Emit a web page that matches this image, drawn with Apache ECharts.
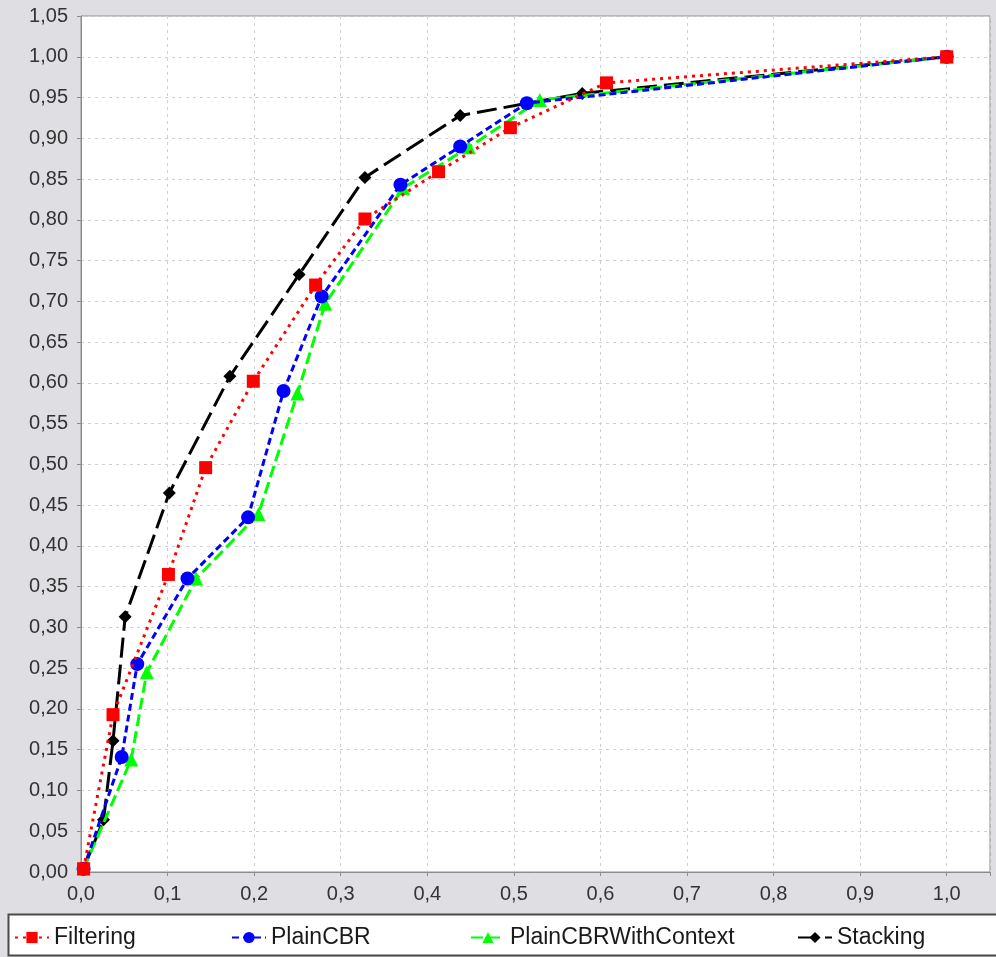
<!DOCTYPE html>
<html>
<head>
<meta charset="utf-8">
<script src="https://cdn.jsdelivr.net/npm/echarts@6/dist/echarts.min.js"></script>
<style>
  html, body { margin: 0; padding: 0; background: #dfdfe3; }
  #chart { width: 996px; height: 957px; }
</style>
</head>
<body>
<div id="chart"></div>
<script>
// series values (x = fallout, y = recall-like)
const filteringX = [0.003, 0.037, 0.101, 0.144, 0.199, 0.271, 0.328, 0.413, 0.496, 0.607, 1.0];
const filteringY = [0.004, 0.193, 0.365, 0.496, 0.602, 0.720, 0.801, 0.859, 0.913, 0.968, 1.0];

const plainX = [0.003, 0.047, 0.065, 0.123, 0.193, 0.234, 0.278, 0.369, 0.438, 0.515, 1.0];
const plainY = [0.004, 0.141, 0.255, 0.360, 0.435, 0.590, 0.706, 0.843, 0.890, 0.943, 1.0];

const contextX = [0.003, 0.058, 0.076, 0.133, 0.205, 0.250, 0.282, 0.372, 0.448, 0.530, 1.0];
const contextY = [0.004, 0.138, 0.245, 0.360, 0.439, 0.587, 0.697, 0.839, 0.889, 0.947, 1.0];

const stackingX = [0.003, 0.026, 0.037, 0.051, 0.102, 0.172, 0.252, 0.328, 0.438, 0.579, 1.0];
const stackingY = [0.004, 0.064, 0.161, 0.313, 0.465, 0.608, 0.733, 0.852, 0.928, 0.955, 1.0];

const seriesNames = ['Filtering', 'PlainCBR', 'PlainCBRWithContext', 'Stacking'];

const FONT = 'Liberation Sans';

let pairs = (xs, ys) => xs.map((x, i) => [x, ys[i]]);

let chart = echarts.init(document.getElementById('chart'));

let mkLegend = (name, left) => ({
    data: [name],
    left: left,
    top: 926,
    itemWidth: 34,
    itemHeight: 14,
    padding: 0,
    selectedMode: false,
    textStyle: { fontFamily: FONT, fontSize: 23, color: '#1a1a1a' }
});

let option = {
    backgroundColor: '#dfdfe3',
    animation: false,
    grid: {
        left: 81,
        top: 16,
        right: 6,
        bottom: 85,
        show: true,
        backgroundColor: '#ffffff',
        borderColor: '#8c8c8c',
        borderWidth: 1
    },
    legend: [
        mkLegend(seriesNames[0], 14),
        mkLegend(seriesNames[1], 231),
        mkLegend(seriesNames[2], 470),
        mkLegend(seriesNames[3], 797)
    ],
    graphic: [
        {
            type: 'rect',
            z: -1,
            shape: { x: 8.5, y: 914.5, width: 1000, height: 41 },
            style: { fill: '#ffffff', stroke: '#4a4a4a', lineWidth: 2 }
        }
    ],
    xAxis: {
        type: 'value',
        min: 0,
        max: 1.05,
        interval: 0.1,
        axisLine: { lineStyle: { color: '#8c8c8c', width: 1 } },
        axisTick: { show: true, length: 4, lineStyle: { color: '#8c8c8c' } },
        axisLabel: {
            margin: 12,
            fontFamily: FONT,
            fontSize: 20,
            color: '#333333',
            formatter: v => v > 1.001 ? '' : v.toFixed(1).replace('.', ',')
        },
        splitLine: { show: true, lineStyle: { color: '#d0d0d0', type: [3, 4], width: 1 } }
    },
    yAxis: {
        type: 'value',
        min: 0,
        max: 1.05,
        interval: 0.05,
        axisLine: { show: true, lineStyle: { color: '#8c8c8c', width: 1 } },
        axisTick: { show: true, length: 4, lineStyle: { color: '#8c8c8c' } },
        axisLabel: {
            margin: 13,
            fontFamily: FONT,
            fontSize: 20,
            color: '#333333',
            formatter: v => v.toFixed(2).replace('.', ',')
        },
        splitLine: { show: true, lineStyle: { color: '#d0d0d0', type: [3, 4], width: 1 } }
    },
    series: [
        {
            name: 'Filtering',
            type: 'line',
            z: 6,
            data: pairs(filteringX, filteringY),
            symbol: 'rect',
            symbolSize: 13,
            itemStyle: { color: '#ff0000' },
            lineStyle: { color: '#ff0000', width: 3, type: [3, 5] }
        },
        {
            name: 'PlainCBR',
            type: 'line',
            z: 5,
            data: pairs(plainX, plainY),
            symbol: 'circle',
            symbolSize: 14,
            itemStyle: { color: '#0000ff' },
            lineStyle: { color: '#0000ff', width: 3, type: [7, 4] }
        },
        {
            name: 'PlainCBRWithContext',
            type: 'line',
            z: 4,
            data: pairs(contextX, contextY),
            symbol: 'triangle',
            symbolSize: 14,
            itemStyle: { color: '#00ff00' },
            lineStyle: { color: '#00ff00', width: 3, type: [12, 5] }
        },
        {
            name: 'Stacking',
            type: 'line',
            z: 3,
            data: pairs(stackingX, stackingY),
            symbol: 'diamond',
            symbolSize: 13,
            itemStyle: { color: '#000000' },
            lineStyle: { color: '#000000', width: 3, type: [20, 7] }
        }
    ]
};

chart.setOption(option);
</script>
</body>
</html>
